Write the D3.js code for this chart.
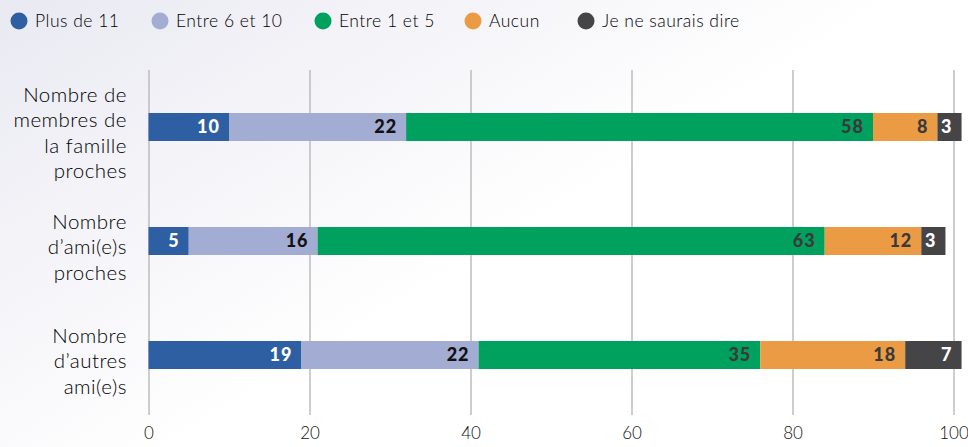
<!DOCTYPE html>
<html>
<head>
<meta charset="utf-8">
<script src="https://cdn.jsdelivr.net/npm/d3@7"></script>
<style>
  body { margin: 0; background: #fff; }
  #chart { width: 968px; height: 447px; }
  text { font-family: Lato, "Open Sans", sans-serif; }
</style>
</head>
<body>
<div id="chart"></div>
<script>
//Données
const categories = ['famille', 'amis', 'autres'];
const categoryLines = [
    ['Nombre de', 'membres de', 'la famille', 'proches'],
    ['Nombre', 'd\u2019ami(e)s', 'proches'],
    ['Nombre', 'd\u2019autres', 'ami(e)s']
];
const series = ['Plus de 11', 'Entre 6 et 10', 'Entre 1 et 5', 'Aucun', 'Je ne saurais dire'];
const values = [
    [10, 22, 58, 8, 3],
    [5, 16, 63, 12, 3],
    [19, 22, 35, 18, 7]
];
const xTicks = [0, 20, 40, 60, 80, 100];

//Colores
const COLORS = ['#2E5FA3', '#A3ACD2', '#00A05F', '#EC9B45', '#454547'];
const LABEL_COLORS = ['#ffffff', '#111111', '#3a3a3a', '#3a3a3a', '#ffffff'];

let width = 968, height = 447;

let svg = d3.select('#chart')
    .append('svg')
    .attr('width', width)
    .attr('height', height);

//Fondo
let defs = svg.append('defs');
let grad = defs.append('linearGradient')
    .attr('id', 'bg')
    .attr('x1', '0%').attr('y1', '0%')
    .attr('x2', '60%').attr('y2', '45%');
grad.append('stop').attr('offset', '0%').attr('stop-color', '#E9E9F2');
grad.append('stop').attr('offset', '100%').attr('stop-color', '#ffffff');
svg.append('rect').attr('width', width).attr('height', height).attr('fill', 'url(#bg)');

let x = d3.scaleLinear()
    .domain([0, 100])
    .range([148.5, 953.5]);

let y = d3.scalePoint()
    .domain(categories)
    .range([70, 412])
    .padding(0.5);

let barH = 28;

//Eje X y líneas de rejilla
let xAxis = svg.append('g')
    .attr('transform', 'translate(0,415)')
    .call(d3.axisBottom(x).tickValues(xTicks).tickSize(-345).tickPadding(12));
xAxis.select('.domain').remove();
xAxis.selectAll('.tick line').attr('stroke', '#bdbdbd').attr('stroke-width', 1.5);
xAxis.selectAll('.tick text')
    .attr('fill', '#111')
    .style('font-size', '17px')
    .style('font-weight', 300);

//Barras apiladas
let rows = svg.append('g')
    .selectAll('g')
    .data(categories)
    .enter()
    .append('g')
    .attr('transform', function(d) { return 'translate(0,' + (y(d) - barH / 2) + ')'; });

rows.selectAll('rect')
    .data(function(d, i) {
        let acc = 0;
        return values[i].map(function(v, j) {
            let s = { x0: acc, x1: acc + v, v: v, j: j };
            acc += v;
            return s;
        });
    })
    .enter()
    .append('rect')
    .attr('x', function(d) { return x(d.x0); })
    .attr('width', function(d) { return x(d.x1) - x(d.x0); })
    .attr('height', barH)
    .attr('fill', function(d) { return COLORS[d.j]; });

rows.selectAll('text.val')
    .data(function(d, i) {
        let acc = 0;
        return values[i].map(function(v, j) {
            acc += v;
            return { x1: acc, v: v, j: j };
        });
    })
    .enter()
    .append('text')
    .attr('class', 'val')
    .attr('x', function(d) { return x(d.x1) - 9; })
    .attr('y', barH / 2)
    .attr('dy', '0.36em')
    .attr('text-anchor', 'end')
    .attr('fill', function(d) { return LABEL_COLORS[d.j]; })
    .style('font-size', '18px')
    .style('font-weight', 900)
    .style('letter-spacing', '1px')
    .text(function(d) { return d.v; });

//Etiquetas del eje Y
let lineH = 25.5;
svg.append('g')
    .selectAll('text')
    .data(categories)
    .enter()
    .append('text')
    .attr('text-anchor', 'end')
    .attr('fill', '#000')
    .style('font-size', '20.5px')
    .style('font-weight', 300)
    .style('letter-spacing', '0.5px')
    .each(function(d, i) {
        let lines = categoryLines[i];
        let top = y(d) + 6 - (lines.length - 1) * lineH / 2;
        d3.select(this).selectAll('tspan')
            .data(lines)
            .enter()
            .append('tspan')
            .attr('x', 127)
            .attr('y', function(l, k) { return top + k * lineH; })
            .attr('dy', '0.35em')
            .text(function(l) { return l; });
    });

//Leyenda
let legendX = [19, 160, 323, 473, 586];
let legend = svg.append('g')
    .selectAll('g')
    .data(series)
    .enter()
    .append('g')
    .attr('transform', function(d, i) { return 'translate(' + legendX[i] + ',21)'; });
legend.append('circle')
    .attr('r', 8.5)
    .attr('fill', function(d, i) { return COLORS[i]; });
legend.append('text')
    .attr('x', 16)
    .attr('dy', '0.35em')
    .attr('fill', '#000')
    .style('font-size', '17.5px')
    .style('font-weight', 300)
    .style('letter-spacing', '0.5px')
    .text(function(d) { return d; });
</script>
</body>
</html>
